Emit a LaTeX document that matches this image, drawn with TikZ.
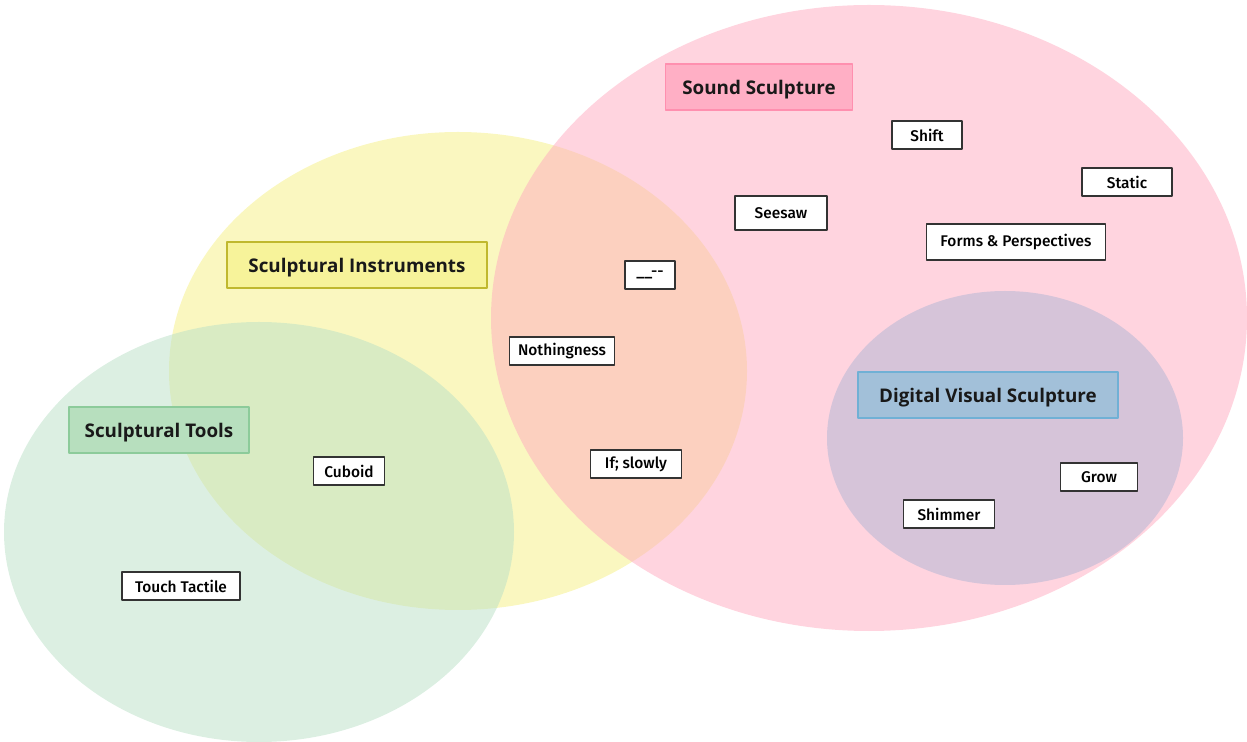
\documentclass[tikz,border=0pt]{standalone}
\usepackage{fontspec}
\setmainfont{Fira Sans Medium}[BoldFont=Fira Sans SemiBold]
\newfontfamily\headfont{Open Sans Bold}
\definecolor{pinkset}{HTML}{FFAABF}
\definecolor{yellowset}{HTML}{F5F082}
\definecolor{greenset}{HTML}{B9E0C6}
\definecolor{purpleset}{HTML}{AFB3D4}
\definecolor{soundfill}{HTML}{FFAFC5} \definecolor{soundline}{HTML}{FF8FAF}
\definecolor{instrfill}{HTML}{F7F39A} \definecolor{instrline}{HTML}{C0B82E}
\definecolor{toolsfill}{HTML}{B7DFBE} \definecolor{toolsline}{HTML}{8CCB9A}
\definecolor{digifill}{HTML}{A2C0D9} \definecolor{digiline}{HTML}{70B0D5}
\begin{document}
\begin{tikzpicture}[x=0.02cm, y=-0.02cm, font=\fontsize{8.8}{10}\selectfont, line join=round]
\tikzset{
  tag/.style={draw=black!80, fill=white, line width=0.8pt, minimum height=0.56cm, inner sep=1pt},
  head/.style={line width=0.8pt, minimum height=0.92cm, text depth=0pt, text=black!90, font=\headfont\fontsize{10.7}{13}\selectfont}
}
\useasboundingbox (0,0) rectangle (1247,742);
% sets
\fill[yellowset, opacity=0.5] (458,371) ellipse [x radius=289, y radius=239];
\fill[pinkset, opacity=0.5] (869,318) ellipse [x radius=378, y radius=313];
\fill[greenset, opacity=0.5] (259,532) ellipse [x radius=255, y radius=210];
\fill[purpleset, opacity=0.5] (1005,438) ellipse [x radius=178, y radius=147];
% headings
\node[head, draw=soundline, fill=soundfill, minimum width=3.74cm] (sound) at (759,87) {Sound Sculpture};
\node[head, draw=instrline, fill=instrfill, minimum width=5.2cm] (instr) at (357,265) {Sculptural Instruments};
\node[head, draw=toolsline, fill=toolsfill, minimum width=3.6cm] (tools) at (159,430) {Sculptural Tools};
\node[head, draw=digiline, fill=digifill, minimum width=5.2cm] (digital) at (988,395) {Digital Visual Sculpture};
% items
\node[tag, minimum width=1.4cm] (shift) at (927,135) {Shift};
\node[tag, minimum width=1.8cm] (static) at (1127,182) {Static};
\node[tag, minimum width=1.84cm, minimum height=0.68cm] (seesaw) at (781,213) {Seesaw};
\node[tag, minimum width=3.58cm, minimum height=0.72cm] (forms) at (1016,242) {Forms \& Perspectives};
\node[tag, minimum width=1.0cm] (blank) at (650,275) {\_\_-{}-};
\node[tag, minimum width=2.1cm] (nothing) at (562,351) {Nothingness};
\node[tag, minimum width=1.82cm] (ifslow) at (636,464) {If; slowly};
\node[tag, minimum width=1.42cm] (cuboid) at (349,471) {Cuboid};
\node[tag, minimum width=2.36cm] (touch) at (181,586) {Touch Tactile};
\node[tag, minimum width=1.54cm] (grow) at (1099,477) {Grow};
\node[tag, minimum width=1.82cm] (shimmer) at (949,514) {Shimmer};
\end{tikzpicture}
\end{document}
